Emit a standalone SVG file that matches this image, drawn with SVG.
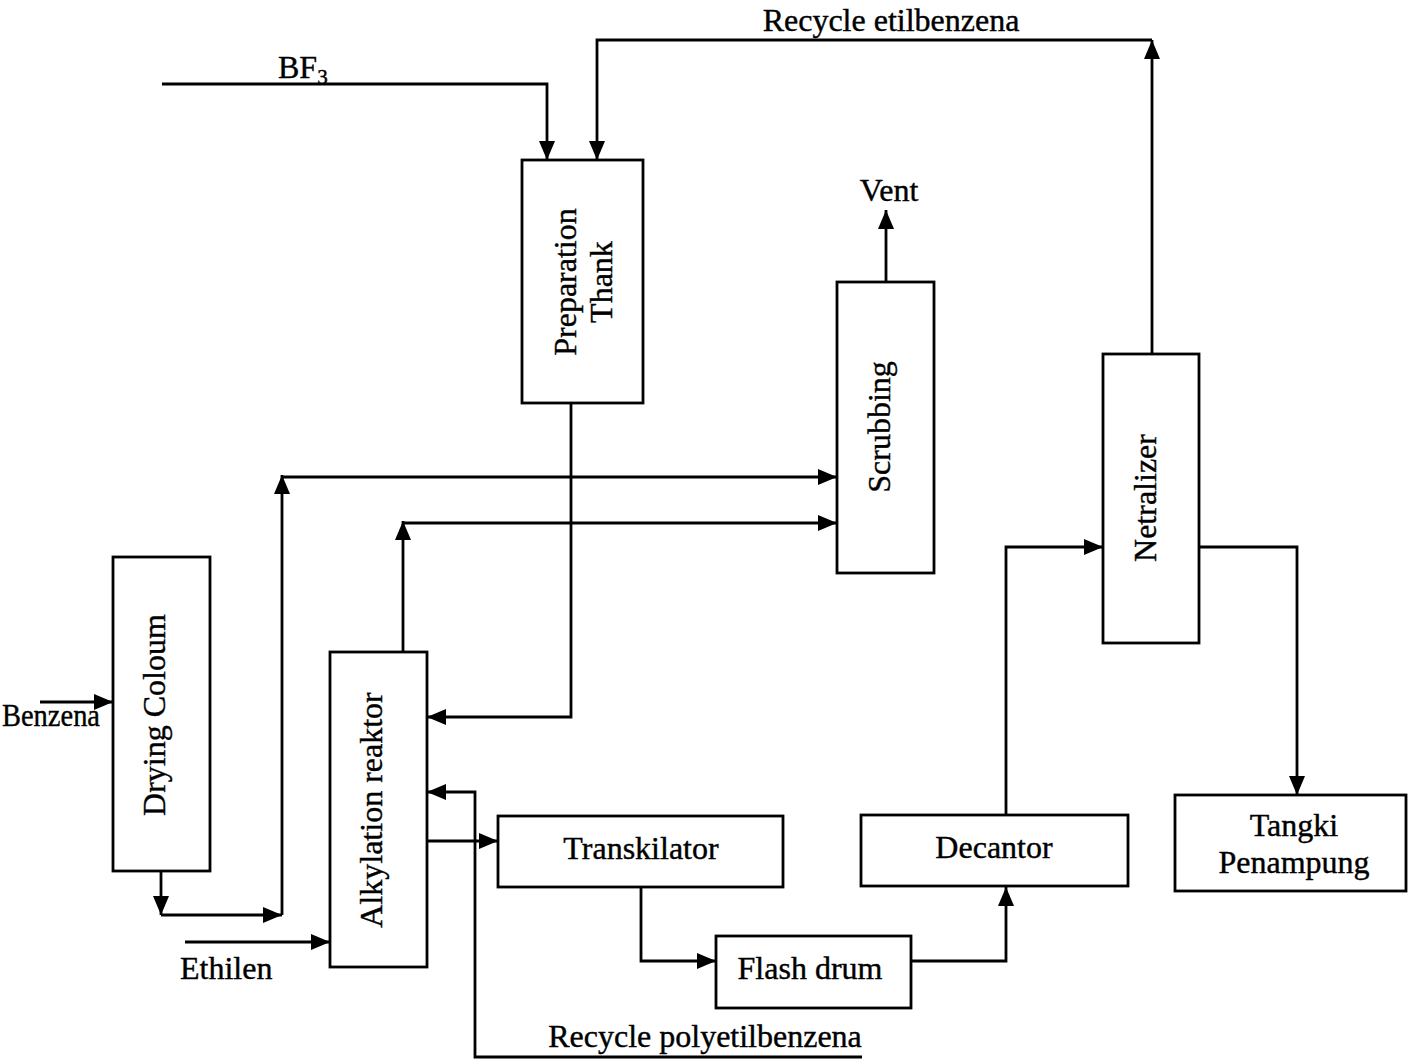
<svg xmlns="http://www.w3.org/2000/svg" width="1408" height="1062" viewBox="0 0 1408 1062">
<style>
.box{fill:#fff;stroke:#000;stroke-width:2.8}
.ar{fill:none;stroke:#000;stroke-width:2.8;marker-end:url(#ah)}
text{font-family:"Liberation Serif","Times New Roman",serif;font-size:32px;fill:#000;stroke:#000;stroke-width:0.4}
.c{text-anchor:middle}
</style>
<defs>
<marker id="ah" markerUnits="userSpaceOnUse" markerWidth="20" markerHeight="16" refX="19" refY="8" orient="auto">
<path d="M0,0 L19,8 L0,16 Z" fill="#000"/>
</marker>
</defs>
<rect width="1408" height="1062" fill="#fff"/>
<g id="connectors">
<polyline class="ar" points="162,84 547,84 547,160"/>
<polyline class="ar" points="1152,354 1152,40"/>
<polyline class="ar" points="1152,40 597,40 597,160"/>
<polyline class="ar" points="886,282 886,210"/>
<polyline class="ar" points="40,702 113,702"/>
<polyline class="ar" points="161,871 161,915"/>
<polyline class="ar" points="161,915 282,915"/>
<polyline class="ar" points="282,915 282,475"/>
<polyline class="ar" points="282,477 837,477"/>
<polyline class="ar" points="403,652 403,521"/>
<polyline class="ar" points="403,523 837,523"/>
<polyline class="ar" points="571,403 571,717 427,717"/>
<polyline class="ar" points="862,1057 475,1057 475,792 427,792"/>
<polyline class="ar" points="427,841 498,841"/>
<polyline class="ar" points="185,942 330,942"/>
<polyline class="ar" points="641,887 641,961 716,961"/>
<polyline class="ar" points="911,961 1006,961 1006,887"/>
<polyline class="ar" points="1006,815 1006,547 1103,547"/>
<polyline class="ar" points="1199,547 1297,547 1297,795"/>
</g>
<g id="labels">
<text x="278" y="78">BF<tspan font-size="21" dy="6">3</tspan></text>
<text class="c" x="891" y="31">Recycle etilbenzena</text>
<text class="c" x="889" y="201">Vent</text>
<text x="2" y="726" font-size="28" textLength="98" lengthAdjust="spacingAndGlyphs">Benzena</text>
<text x="180" y="979">Ethilen</text>
<text class="c" x="705" y="1047">Recycle polyetilbenzena</text>
</g>
<g id="preparation-thank">
<rect class="box" x="522" y="160" width="121" height="243"/>
<text class="c" transform="translate(565,282) rotate(-90)" dy="11">Preparation</text>
<text class="c" transform="translate(601,282) rotate(-90)" dy="11">Thank</text>
</g>
<g id="scrubbing">
<rect class="box" x="837" y="282" width="97" height="291"/>
<text class="c" transform="translate(879,427) rotate(-90)" dy="11">Scrubbing</text>
</g>
<g id="netralizer">
<rect class="box" x="1103" y="354" width="96" height="289"/>
<text class="c" transform="translate(1145,498) rotate(-90)" dy="11">Netralizer</text>
</g>
<g id="drying-coloum">
<rect class="box" x="113" y="557" width="97" height="314"/>
<text class="c" transform="translate(154,715) rotate(-90)" dy="11">Drying Coloum</text>
</g>
<g id="alkylation-reaktor">
<rect class="box" x="330" y="652" width="97" height="315"/>
<text class="c" transform="translate(371,810) rotate(-90)" dy="11">Alkylation reaktor</text>
</g>
<g id="transkilator">
<rect class="box" x="498" y="816" width="285" height="71"/>
<text class="c" x="641" y="859">Transkilator</text>
</g>
<g id="flash-drum">
<rect class="box" x="716" y="936" width="195" height="72"/>
<text class="c" x="810" y="979">Flash drum</text>
</g>
<g id="decantor">
<rect class="box" x="861" y="815" width="267" height="71"/>
<text class="c" x="994" y="858">Decantor</text>
</g>
<g id="tangki-penampung">
<rect class="box" x="1175" y="795" width="231" height="96"/>
<text class="c" x="1294" y="836">Tangki</text>
<text class="c" x="1294" y="873">Penampung</text>
</g>
</svg>
